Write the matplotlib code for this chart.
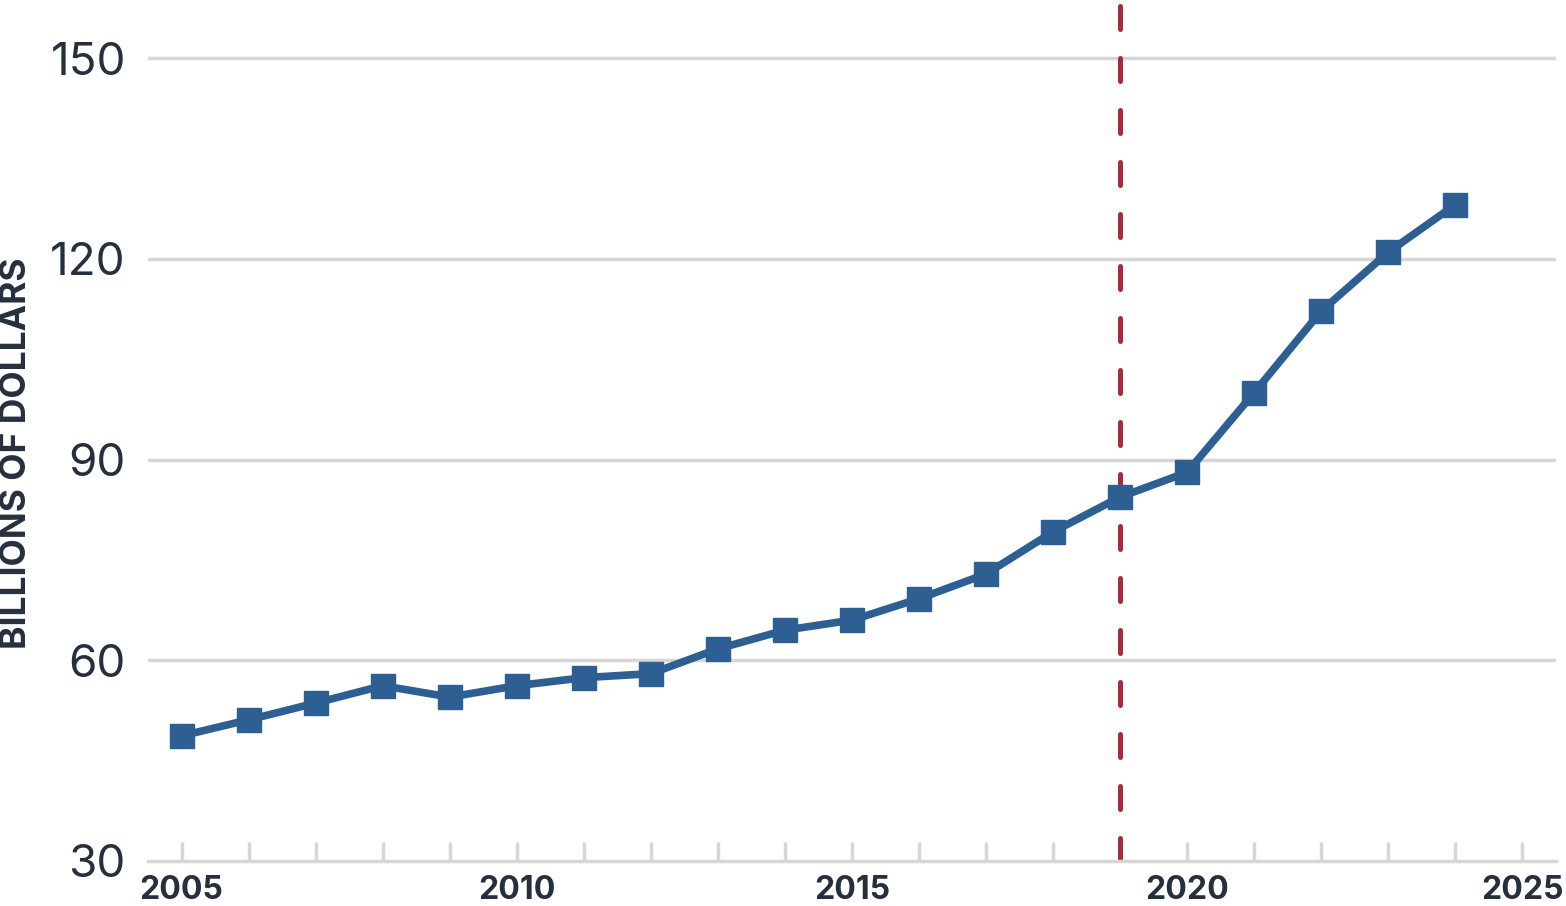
import matplotlib.pyplot as plt
from matplotlib.ticker import FixedLocator, NullFormatter

# Données
years = list(range(2005, 2025))
values = [48.7, 51.1, 53.6, 56.2, 54.5, 56.2, 57.4, 58.0, 61.7, 64.5,
          66.0, 69.2, 72.9, 79.2, 84.4, 88.1, 100.0, 112.2, 121.0, 128.1]
y_ticks = [30, 60, 90, 120, 150]
x_labels = [2005, 2010, 2015, 2020, 2025]
marker_year = 2019

plt.rcParams['font.family'] = ['Inter', 'DejaVu Sans']
text_col = '#262f3d'
grid_col = '#d6d6d6'
blue = '#2d5f93'
red = '#a82b3c'

fig = plt.figure(figsize=(15.66, 9.06), dpi=100)
ax = fig.add_axes([0.0945, 0.0497, 0.899, 0.9503])

# lignes horizontales
for v in y_ticks[1:]:
    ax.axhline(v, color=grid_col, lw=2.5, zorder=1)

ax.axvline(marker_year, color=red, lw=3.6, ls=(0, (4.6, 5.8)),
           dash_capstyle='round', zorder=2)

ax.plot(years, values, color=blue, lw=5.5, marker='s', markersize=17,
        zorder=3)

ax.set_xlim(2004.5, 2025.5)
ax.set_ylim(30, 158.7)

for side in ['top', 'right', 'left']:
    ax.spines[side].set_visible(False)
ax.spines['bottom'].set_color(grid_col)
ax.spines['bottom'].set_linewidth(2.5)

ax.set_yticks(y_ticks)
ax.set_yticklabels([str(v) for v in y_ticks], fontsize=33, color=text_col)
ax.tick_params(axis='y', length=0, pad=16)

ax.xaxis.set_major_locator(FixedLocator(list(range(2005, 2026))))
ax.xaxis.set_major_formatter(NullFormatter())
ax.tick_params(axis='x', direction='in', length=14, width=2.5, color=grid_col)
for xl in x_labels:
    ax.text(xl, -0.016, str(xl), transform=ax.get_xaxis_transform(),
            ha='center', va='top', fontsize=23, fontweight='bold', color=text_col)

fig.text(0.0, 0.5, 'BILLIONS OF DOLLARS', rotation=90, ha='left', va='center',
         fontsize=25.5, fontweight='bold', color=text_col)

fig.savefig('out.png', dpi=100)
